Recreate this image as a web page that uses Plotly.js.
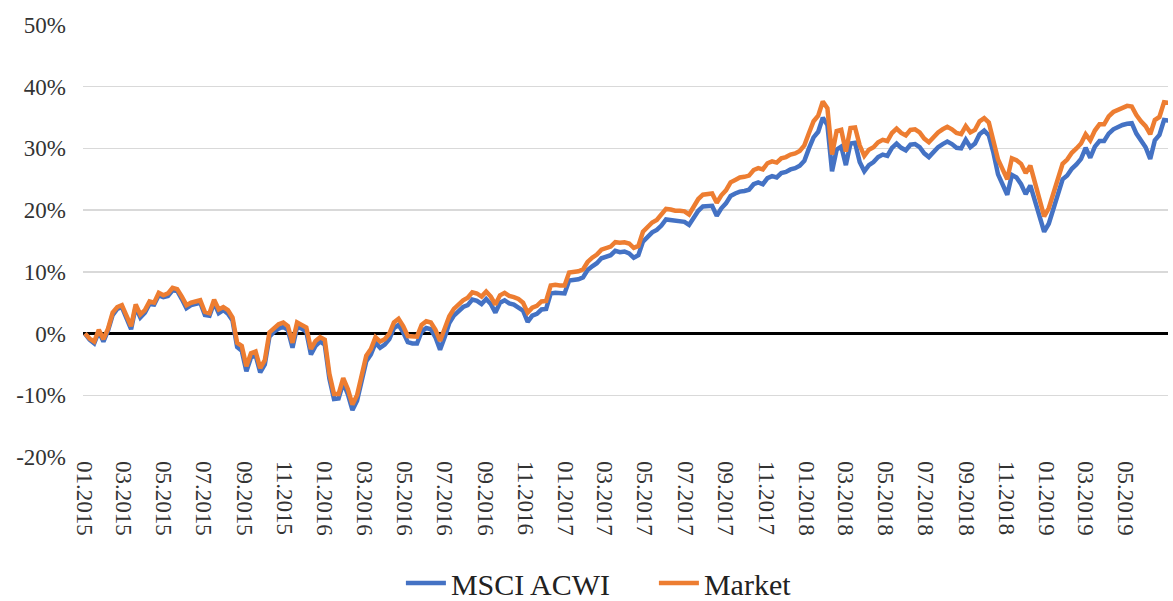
<!DOCTYPE html>
<html>
<head>
<meta charset="utf-8">
<script src="https://cdn.plot.ly/plotly-3.0.1.min.js"></script>
<style>html,body{margin:0;padding:0;background:#fff;}#chart{width:1173px;height:601px;}</style>
</head>
<body>
<div id="chart"></div>
<script>
// Weekly observations starting on this date
const startDate = "2015-01-02";
const seriesNames = ["MSCI ACWI", "Market"];

// Cumulative return, % (Market, orange)
const market = [
 0.0,-0.8,-1.3,0.6,-0.9,0.8,3.4,4.3,4.6,3.0,
 1.2,4.7,3.1,3.8,5.2,5.0,6.6,6.2,6.5,7.4,
 7.2,6.0,4.6,5.0,5.2,5.4,3.5,3.3,5.5,3.9,
 4.3,3.8,2.6,-1.5,-2.0,-5.3,-3.2,-2.9,-5.6,-4.3,
 0.2,0.9,1.5,1.8,1.2,-1.5,1.8,1.4,1.0,-2.5,
 -1.2,-0.6,-1.0,-6.5,-9.8,-9.8,-7.2,-9.0,-11.5,-10.0,
 -6.8,-3.6,-2.5,-0.6,-1.3,-0.9,0.0,1.8,2.4,1.2,
 -0.4,-0.5,-0.5,1.4,2.0,1.8,0.6,-1.2,0.6,2.8,
 4.0,4.8,5.4,5.8,6.7,6.5,6.0,6.8,6.0,4.7,
 6.2,6.6,6.1,5.9,5.6,5.0,3.4,4.2,4.5,5.2,
 5.3,7.8,7.9,7.8,7.8,9.9,10.0,10.1,10.4,11.6,
 12.3,12.8,13.6,13.8,14.1,14.8,14.7,14.8,14.6,13.9,
 14.2,16.5,17.3,18.0,18.4,19.2,20.2,20.1,19.9,19.9,
 19.8,19.3,20.6,21.8,22.5,22.6,22.7,21.2,22.4,23.2,
 24.5,24.9,25.3,25.4,25.6,26.5,26.8,26.6,27.6,27.9,
 27.7,28.4,28.6,29.0,29.2,29.6,30.5,32.5,34.4,35.3,
 37.6,36.5,29.0,32.8,33.0,29.5,33.3,33.4,30.5,28.8,
 29.8,30.2,31.0,31.4,31.2,32.5,33.2,32.5,32.1,33.0,
 33.1,32.6,31.6,31.0,31.9,32.6,33.1,33.5,33.1,32.5,
 32.3,33.6,32.6,33.0,34.4,34.9,34.2,31.5,28.2,26.6,
 25.0,28.4,28.1,27.5,26.0,27.2,24.5,22.0,19.0,20.3,
 22.9,25.5,27.5,28.2,29.3,30.0,30.8,32.3,31.3,32.9,
 33.9,33.9,35.2,35.9,36.3,36.6,36.9,36.8,35.4,34.4,
 33.6,32.3,34.6,35.1,37.5,37.4
];

// Cumulative return, % (MSCI ACWI, blue)
const msci = [
 0.0,-1.0,-1.6,0.3,-1.3,0.5,3.0,4.0,4.3,2.6,
 0.7,4.3,2.6,3.4,4.8,4.7,6.2,5.9,6.1,7.0,
 6.9,5.6,4.1,4.6,4.8,5.0,3.0,2.9,5.0,3.3,
 3.8,3.2,2.1,-2.2,-2.8,-6.1,-3.9,-3.5,-6.3,-5.0,
 -0.5,0.3,0.8,1.1,0.6,-2.3,1.1,0.8,0.3,-3.4,
 -2.0,-1.3,-1.8,-7.3,-10.6,-10.5,-8.0,-9.8,-12.4,-10.9,
 -7.7,-4.5,-3.4,-1.5,-2.3,-1.8,-0.9,0.9,1.4,0.2,
 -1.4,-1.6,-1.6,0.3,0.9,0.7,-0.6,-2.6,-0.6,1.7,
 2.9,3.7,4.3,4.6,5.5,5.3,4.8,5.6,4.8,3.4,
 5.0,5.4,4.9,4.7,4.3,3.7,1.9,2.9,3.2,3.9,
 4.0,6.5,6.6,6.6,6.5,8.6,8.7,8.8,9.1,10.3,
 10.9,11.4,12.2,12.4,12.7,13.4,13.2,13.3,13.0,12.3,
 12.7,14.9,15.7,16.4,16.8,17.5,18.5,18.4,18.2,18.2,
 18.1,17.6,18.8,19.9,20.6,20.7,20.7,19.1,20.3,21.1,
 22.3,22.7,23.0,23.1,23.3,24.2,24.5,24.2,25.2,25.5,
 25.3,26.0,26.2,26.6,26.8,27.2,28.0,30.0,31.8,32.7,
 35.0,33.8,26.3,29.8,30.3,27.3,30.8,30.9,27.8,26.3,
 27.3,27.8,28.6,29.0,28.8,30.1,30.8,30.1,29.7,30.6,
 30.7,30.2,29.2,28.6,29.5,30.2,30.7,31.1,30.7,30.1,
 30.0,31.4,30.2,30.8,32.3,32.9,32.1,29.3,25.8,24.1,
 22.5,25.7,25.3,24.2,22.6,24.0,21.4,19.2,16.5,17.8,
 20.3,22.9,25.0,25.6,26.7,27.4,28.3,30.1,28.5,30.3,
 31.2,31.2,32.4,33.1,33.5,33.8,34.0,34.1,32.4,31.3,
 30.2,28.3,31.3,32.2,34.6,34.5
];

// Axis ticks
const yTicks = [-20, -10, 0, 10, 20, 30, 40, 50];
const yTickText = ["-20%", "-10%", "0%", "10%", "20%", "30%", "40%", "50%"];

function weeklyDates(start, n) {
  const out = [];
  const d0 = new Date(start + "T00:00:00Z");
  for (let i = 0; i < n; i++) {
    const d = new Date(d0.getTime() + i * 7 * 86400000);
    out.push(d.toISOString().slice(0, 10));
  }
  return out;
}
const dates = weeklyDates(startDate, market.length);

const serif = "Liberation Serif, Times New Roman, serif";

const traces = [
  { x: dates, y: msci, name: seriesNames[0], type: "scatter", mode: "lines",
    line: { color: "#4472C4", width: 4.5 } },
  { x: dates, y: market, name: seriesNames[1], type: "scatter", mode: "lines",
    line: { color: "#ED7D31", width: 4.5 } }
];

const layout = {
  width: 1173, height: 601,
  margin: { l: 83, r: 5, t: 25, b: 144, autoexpand: false },
  paper_bgcolor: "#ffffff", plot_bgcolor: "#ffffff",
  font: { family: serif, color: "#333333", size: 23 },
  showlegend: true,
  legend: { orientation: "h", x: 0.293, xanchor: "left",
            yref: "container", y: 0.03, yanchor: "middle",
            entrywidth: 198, entrywidthmode: "pixels",
            font: { family: serif, size: 30, color: "#222222" }, itemwidth: 40, tracegroupgap: 0 },
  xaxis: {
    type: "date", automargin: false,
    range: ["2014-12-30", "2019-07-04"],
    tick0: "2015-01-01", dtick: "M2", tickformat: "%m.%Y",
    tickangle: 90, showgrid: false, zeroline: false, showline: false,
    ticks: "", ticklabelstandoff: 3,
    tickfont: { family: serif, size: 23, color: "#333333" }
  },
  yaxis: {
    automargin: false,
    range: [-20, 50], tickvals: yTicks, ticktext: yTickText,
    showgrid: true, gridcolor: "#D9D9D9", gridwidth: 1.3,
    zeroline: true, zerolinecolor: "#000000", zerolinewidth: 2.5,
    showline: false, ticks: "", ticklabelstandoff: 16,
    tickfont: { family: serif, size: 23, color: "#333333" }
  }
};

Plotly.newPlot("chart", traces, layout, { displayModeBar: false, staticPlot: true });
</script>
</body>
</html>
